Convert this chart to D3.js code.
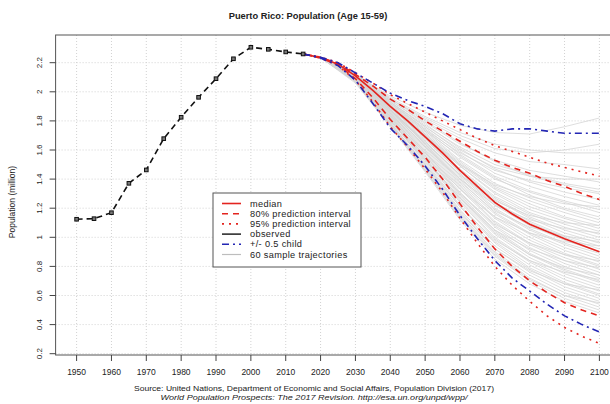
<!DOCTYPE html>
<html>
<head>
<meta charset="utf-8">
<script src="https://cdn.jsdelivr.net/npm/d3@7"></script>
<style>
    body { margin: 0; background: #ffffff; }
    #chart-area { width: 610px; height: 404px; }
    text { font-family: "Liberation Sans", Arial, sans-serif; fill: #222; }
</style>
</head>
<body>
<div id="chart-area"></div>
<script>
// Observed population, age 15-59 (millions)
var obsYears = [1950, 1955, 1960, 1965, 1970, 1975, 1980, 1985, 1990, 1995, 2000, 2005, 2010, 2015];
var observed = [1.124, 1.128, 1.169, 1.371, 1.463, 1.678, 1.825, 1.962, 2.090, 2.227, 2.306, 2.292, 2.274, 2.260];

// Projection years and quantiles
var projYears = [2015, 2020, 2025, 2030, 2035, 2040, 2045, 2050, 2055, 2060, 2065, 2070, 2075, 2080, 2085, 2090, 2095, 2100];
var median     = [2.26, 2.235, 2.19, 2.11, 2.01, 1.90, 1.80, 1.69, 1.58, 1.46, 1.35, 1.24, 1.16, 1.09, 1.04, 0.99, 0.945, 0.90];
var upper80    = [2.26, 2.237, 2.195, 2.12, 2.04, 1.95, 1.88, 1.80, 1.73, 1.66, 1.59, 1.53, 1.48, 1.44, 1.39, 1.35, 1.30, 1.26];
var lower80    = [2.26, 2.233, 2.185, 2.09, 1.96, 1.81, 1.68, 1.55, 1.40, 1.23, 1.07, 0.92, 0.80, 0.70, 0.62, 0.55, 0.50, 0.46];
var upper95    = [2.26, 2.238, 2.20, 2.13, 2.06, 1.98, 1.92, 1.86, 1.80, 1.74, 1.68, 1.63, 1.59, 1.55, 1.51, 1.48, 1.45, 1.42];
var lower95    = [2.26, 2.232, 2.18, 2.08, 1.93, 1.76, 1.62, 1.47, 1.31, 1.13, 0.96, 0.80, 0.67, 0.56, 0.46, 0.38, 0.32, 0.27];
var upperChild = [2.26, 2.238, 2.20, 2.13, 2.06, 1.99, 1.94, 1.90, 1.85, 1.78, 1.745, 1.73, 1.745, 1.745, 1.73, 1.715, 1.715, 1.715];
var lowerChild = [2.26, 2.232, 2.18, 2.08, 1.92, 1.75, 1.63, 1.49, 1.33, 1.15, 0.99, 0.84, 0.72, 0.63, 0.54, 0.46, 0.40, 0.35];

// 60 sample trajectories
var trajYears = [2015, 2020, 2030, 2040, 2050, 2060, 2070, 2080, 2090, 2100];
var trajectories = [
    [2.26, 2.235, 2.12, 1.97, 1.86, 1.77, 1.72, 1.71, 1.76, 1.82],
    [2.26, 2.235, 2.12, 1.96, 1.83, 1.72, 1.64, 1.60, 1.58, 1.58],
    [2.26, 2.235, 2.12, 1.95, 1.81, 1.68, 1.58, 1.52, 1.50, 1.47],
    [2.26, 2.235, 2.11, 1.94, 1.79, 1.64, 1.53, 1.46, 1.42, 1.38],
    [2.26, 2.235, 2.12, 1.95, 1.80, 1.65, 1.52, 1.42, 1.36, 1.31],
    [2.26, 2.235, 2.11, 1.93, 1.77, 1.62, 1.50, 1.43, 1.37, 1.33],
    [2.26, 2.235, 2.11, 1.94, 1.78, 1.61, 1.47, 1.38, 1.31, 1.26],
    [2.26, 2.235, 2.12, 1.93, 1.76, 1.59, 1.44, 1.35, 1.28, 1.22],
    [2.26, 2.235, 2.11, 1.92, 1.75, 1.57, 1.42, 1.32, 1.25, 1.19],
    [2.26, 2.235, 2.11, 1.93, 1.74, 1.55, 1.40, 1.31, 1.24, 1.17],
    [2.26, 2.235, 2.11, 1.91, 1.73, 1.56, 1.41, 1.29, 1.20, 1.14],
    [2.26, 2.235, 2.11, 1.92, 1.73, 1.53, 1.37, 1.27, 1.19, 1.12],
    [2.26, 2.235, 2.10, 1.91, 1.72, 1.52, 1.35, 1.25, 1.17, 1.10],
    [2.26, 2.235, 2.11, 1.90, 1.71, 1.51, 1.34, 1.23, 1.14, 1.08],
    [2.26, 2.235, 2.10, 1.91, 1.71, 1.50, 1.33, 1.21, 1.13, 1.06],
    [2.26, 2.235, 2.11, 1.90, 1.70, 1.49, 1.31, 1.19, 1.11, 1.04],
    [2.26, 2.235, 2.10, 1.89, 1.69, 1.49, 1.30, 1.17, 1.09, 1.02],
    [2.26, 2.235, 2.11, 1.90, 1.70, 1.47, 1.28, 1.16, 1.07, 1.00],
    [2.26, 2.235, 2.10, 1.89, 1.68, 1.46, 1.27, 1.14, 1.05, 0.98],
    [2.26, 2.235, 2.10, 1.88, 1.67, 1.45, 1.26, 1.13, 1.03, 0.96],
    [2.26, 2.235, 2.11, 1.89, 1.68, 1.44, 1.24, 1.11, 1.01, 0.94],
    [2.26, 2.235, 2.10, 1.88, 1.66, 1.43, 1.23, 1.10, 1.00, 0.92],
    [2.26, 2.235, 2.10, 1.87, 1.66, 1.42, 1.22, 1.08, 0.98, 0.90],
    [2.26, 2.235, 2.10, 1.88, 1.65, 1.41, 1.20, 1.06, 0.96, 0.89],
    [2.26, 2.235, 2.09, 1.87, 1.64, 1.40, 1.19, 1.05, 0.95, 0.87],
    [2.26, 2.235, 2.10, 1.86, 1.63, 1.39, 1.17, 1.03, 0.93, 0.85],
    [2.26, 2.235, 2.09, 1.86, 1.63, 1.37, 1.16, 1.02, 0.91, 0.83],
    [2.26, 2.235, 2.10, 1.87, 1.62, 1.36, 1.14, 1.00, 0.89, 0.81],
    [2.26, 2.235, 2.09, 1.85, 1.61, 1.35, 1.13, 0.98, 0.88, 0.80],
    [2.26, 2.235, 2.09, 1.85, 1.60, 1.34, 1.11, 0.96, 0.86, 0.78],
    [2.26, 2.235, 2.10, 1.84, 1.59, 1.33, 1.10, 0.95, 0.84, 0.76],
    [2.26, 2.235, 2.09, 1.85, 1.59, 1.31, 1.08, 0.93, 0.82, 0.74],
    [2.26, 2.235, 2.09, 1.83, 1.58, 1.30, 1.07, 0.91, 0.80, 0.72],
    [2.26, 2.235, 2.09, 1.84, 1.57, 1.29, 1.05, 0.89, 0.78, 0.70],
    [2.26, 2.235, 2.08, 1.83, 1.56, 1.28, 1.04, 0.88, 0.77, 0.69],
    [2.26, 2.235, 2.09, 1.82, 1.55, 1.26, 1.02, 0.86, 0.75, 0.67],
    [2.26, 2.235, 2.08, 1.82, 1.54, 1.25, 1.00, 0.84, 0.73, 0.65],
    [2.26, 2.235, 2.09, 1.81, 1.53, 1.24, 0.99, 0.83, 0.71, 0.63],
    [2.26, 2.235, 2.08, 1.80, 1.52, 1.22, 0.97, 0.81, 0.69, 0.61],
    [2.26, 2.235, 2.08, 1.81, 1.51, 1.21, 0.96, 0.79, 0.68, 0.60],
    [2.26, 2.235, 2.08, 1.79, 1.50, 1.19, 0.94, 0.78, 0.66, 0.58],
    [2.26, 2.235, 2.07, 1.79, 1.49, 1.18, 0.92, 0.76, 0.64, 0.56],
    [2.26, 2.235, 2.08, 1.78, 1.48, 1.16, 0.90, 0.74, 0.62, 0.54],
    [2.26, 2.235, 2.07, 1.77, 1.47, 1.15, 0.89, 0.72, 0.60, 0.52],
    [2.26, 2.235, 2.07, 1.78, 1.46, 1.13, 0.87, 0.70, 0.58, 0.50],
    [2.26, 2.235, 2.07, 1.76, 1.45, 1.12, 0.85, 0.68, 0.56, 0.48],
    [2.26, 2.235, 2.08, 1.80, 1.53, 1.27, 1.05, 0.92, 0.84, 0.79],
    [2.26, 2.235, 2.10, 1.88, 1.64, 1.38, 1.18, 1.07, 1.01, 0.97],
    [2.26, 2.235, 2.11, 1.92, 1.74, 1.58, 1.46, 1.39, 1.34, 1.30],
    [2.26, 2.235, 2.09, 1.85, 1.62, 1.40, 1.22, 1.12, 1.06, 1.03],
    [2.26, 2.235, 2.10, 1.89, 1.70, 1.50, 1.36, 1.28, 1.23, 1.21],
    [2.26, 2.235, 2.08, 1.82, 1.56, 1.30, 1.09, 0.96, 0.88, 0.84],
    [2.26, 2.235, 2.09, 1.83, 1.58, 1.33, 1.14, 1.03, 0.97, 0.94],
    [2.26, 2.235, 2.11, 1.93, 1.76, 1.60, 1.48, 1.42, 1.40, 1.40],
    [2.26, 2.235, 2.07, 1.78, 1.50, 1.21, 0.98, 0.84, 0.76, 0.71],
    [2.26, 2.235, 2.12, 1.95, 1.82, 1.70, 1.61, 1.58, 1.60, 1.64],
    [2.26, 2.235, 2.10, 1.87, 1.65, 1.43, 1.25, 1.15, 1.10, 1.08],
    [2.26, 2.235, 2.08, 1.81, 1.54, 1.27, 1.03, 0.88, 0.79, 0.74],
    [2.26, 2.235, 2.07, 1.77, 1.48, 1.17, 0.92, 0.77, 0.68, 0.64],
    [2.26, 2.235, 2.06, 1.76, 1.46, 1.14, 0.88, 0.71, 0.60, 0.55]
];

// Axis ticks
var xTicks = [1950, 1960, 1970, 1980, 1990, 2000, 2010, 2020, 2030, 2040, 2050, 2060, 2070, 2080, 2090, 2100];
var yTicks = [0.2, 0.4, 0.6, 0.8, 1, 1.2, 1.4, 1.6, 1.8, 2, 2.2];

// Legend entries
var legendLabels = ["median", "80% prediction interval", "95% prediction interval", "observed", "+/- 0.5 child", "60 sample trajectories"];

var RED = "#e3241f";
var BLUE = "#2326b4";

PopChart = function(_parentElement) {
    this.parentElement = _parentElement;
    this.initVis();
};

PopChart.prototype.initVis = function() {
    var vis = this;

    vis.width = 610;
    vis.height = 404;

    // plot box (right edge runs off the picture)
    vis.box = { left: 55.6, top: 35, right: 622, bottom: 355 };

    vis.svg = d3.select("#" + vis.parentElement).append("svg")
        .attr("width", vis.width)
        .attr("height", vis.height);

    vis.x = d3.scaleLinear().domain([1950, 2100]).range([76.6, 599.4]);
    vis.y = d3.scaleLinear().domain([0.2, 2.2]).range([353.7, 62.7]);

    vis.updateVis();
};

PopChart.prototype.updateVis = function() {
    var vis = this;

    // Grid lines
    vis.svg.append("g").selectAll("line.vgrid")
        .data(xTicks).enter().append("line")
        .attr("class", "vgrid")
        .attr("x1", function(d) { return vis.x(d); })
        .attr("x2", function(d) { return vis.x(d); })
        .attr("y1", vis.box.top)
        .attr("y2", vis.box.bottom)
        .attr("stroke", "#d2d2d2")
        .attr("stroke-width", 1)
        .attr("stroke-dasharray", "1,2");

    vis.svg.append("g").selectAll("line.hgrid")
        .data(yTicks).enter().append("line")
        .attr("class", "hgrid")
        .attr("x1", vis.box.left)
        .attr("x2", vis.box.right)
        .attr("y1", function(d) { return vis.y(d); })
        .attr("y2", function(d) { return vis.y(d); })
        .attr("stroke", "#d2d2d2")
        .attr("stroke-width", 1)
        .attr("stroke-dasharray", "1,2");

    var line = d3.line()
        .x(function(d) { return vis.x(d[0]); })
        .y(function(d) { return vis.y(d[1]); });

    function pairs(years, vals) {
        return years.map(function(yr, i) { return [yr, vals[i]]; });
    }

    // Sample trajectories
    vis.svg.append("g").selectAll("path.traj")
        .data(trajectories).enter().append("path")
        .attr("class", "traj")
        .attr("d", function(d) { return line(pairs(trajYears, d)); })
        .attr("fill", "none")
        .attr("stroke", "#d6d6d6")
        .attr("stroke-width", 0.8);

    // Projection quantiles + the half-child variants
    var series = [
        { vals: median, color: RED, dash: null },
        { vals: upper80, color: RED, dash: "6,5" },
        { vals: lower80, color: RED, dash: "6,5" },
        { vals: upper95, color: RED, dash: "2,5" },
        { vals: lower95, color: RED, dash: "2,5" },
        { vals: upperChild, color: BLUE, dash: "7,4,2,4" },
        { vals: lowerChild, color: BLUE, dash: "7,4,2,4" }
    ];

    vis.svg.append("g").selectAll("path.proj")
        .data(series).enter().append("path")
        .attr("class", "proj")
        .attr("d", function(d) { return line(pairs(projYears, d.vals)); })
        .attr("fill", "none")
        .attr("stroke", function(d) { return d.color; })
        .attr("stroke-width", 1.6)
        .attr("stroke-dasharray", function(d) { return d.dash; });

    // Observed
    vis.svg.append("path")
        .attr("d", line(pairs(obsYears, observed)))
        .attr("fill", "none")
        .attr("stroke", "#111")
        .attr("stroke-width", 1.6)
        .attr("stroke-dasharray", "6,4");

    vis.svg.append("g").selectAll("rect.obs")
        .data(pairs(obsYears, observed)).enter().append("rect")
        .attr("class", "obs")
        .attr("x", function(d) { return vis.x(d[0]) - 1.8; })
        .attr("y", function(d) { return vis.y(d[1]) - 1.8; })
        .attr("width", 3.6)
        .attr("height", 3.6)
        .attr("fill", "#777")
        .attr("stroke", "#111")
        .attr("stroke-width", 1);

    // Box
    vis.svg.append("rect")
        .attr("x", vis.box.left)
        .attr("y", vis.box.top)
        .attr("width", vis.box.right - vis.box.left)
        .attr("height", vis.box.bottom - vis.box.top)
        .attr("fill", "none")
        .attr("stroke", "#555")
        .attr("stroke-width", 1);

    // x axis ticks and labels
    var xg = vis.svg.append("g");
    xg.selectAll("line").data(xTicks).enter().append("line")
        .attr("x1", function(d) { return vis.x(d); })
        .attr("x2", function(d) { return vis.x(d); })
        .attr("y1", vis.box.bottom)
        .attr("y2", vis.box.bottom + 6)
        .attr("stroke", "#444");
    xg.selectAll("text").data(xTicks).enter().append("text")
        .attr("x", function(d) { return vis.x(d); })
        .attr("y", 375)
        .attr("text-anchor", "middle")
        .style("font-size", "8.5px")
        .text(function(d) { return d; });

    // y axis ticks and labels (rotated, like R's default)
    var yg = vis.svg.append("g");
    yg.selectAll("line").data(yTicks).enter().append("line")
        .attr("x1", vis.box.left - 6)
        .attr("x2", vis.box.left)
        .attr("y1", function(d) { return vis.y(d); })
        .attr("y2", function(d) { return vis.y(d); })
        .attr("stroke", "#444");
    yg.selectAll("text").data(yTicks).enter().append("text")
        .attr("transform", function(d) { return "translate(42," + vis.y(d) + ") rotate(-90)"; })
        .attr("text-anchor", "middle")
        .style("font-size", "8px")
        .text(function(d) { return d; });

    // y label
    vis.svg.append("text")
        .attr("transform", "translate(15,202) rotate(-90)")
        .attr("text-anchor", "middle")
        .style("font-size", "8.5px")
        .text("Population (million)");

    // Title
    vis.svg.append("text")
        .attr("x", 308)
        .attr("y", 19)
        .attr("text-anchor", "middle")
        .style("font-size", "9.3px")
        .style("font-weight", "bold")
        .text("Puerto Rico: Population (Age 15-59)");

    // Source lines
    vis.svg.append("text")
        .attr("x", 314)
        .attr("y", 391)
        .attr("text-anchor", "middle")
        .attr("textLength", 360)
        .attr("lengthAdjust", "spacingAndGlyphs")
        .style("font-size", "7.5px")
        .text("Source: United Nations, Department of Economic and Social Affairs, Population Division (2017)");
    vis.svg.append("text")
        .attr("x", 314)
        .attr("y", 400)
        .attr("text-anchor", "middle")
        .attr("textLength", 307)
        .attr("lengthAdjust", "spacingAndGlyphs")
        .style("font-size", "7.5px")
        .style("font-style", "italic")
        .text("World Population Prospects: The 2017 Revision. http://esa.un.org/unpd/wpp/");

    // Legend
    var legendStyles = [
        { color: RED, dash: null, w: 1.6 },
        { color: RED, dash: "6,5", w: 1.6 },
        { color: RED, dash: "2,5", w: 1.6 },
        { color: "#111", dash: null, w: 1.4 },
        { color: BLUE, dash: "7,4,2,4", w: 1.6 },
        { color: "#bdbdbd", dash: null, w: 1.2 }
    ];

    var lg = vis.svg.append("g").attr("transform", "translate(213,193)");
    lg.append("rect")
        .attr("width", 148)
        .attr("height", 74)
        .attr("fill", "#fff")
        .attr("stroke", "#555")
        .attr("stroke-width", 1);

    var items = lg.selectAll("g.item")
        .data(legendLabels).enter().append("g")
        .attr("class", "item")
        .attr("transform", function(d, i) { return "translate(0," + (10.5 + i * 10.2) + ")"; });

    items.append("line")
        .attr("x1", 9).attr("x2", 28)
        .attr("stroke", function(d, i) { return legendStyles[i].color; })
        .attr("stroke-width", function(d, i) { return legendStyles[i].w; })
        .attr("stroke-dasharray", function(d, i) { return legendStyles[i].dash; });

    items.append("text")
        .attr("x", 37)
        .attr("y", 3)
        .style("font-size", "9.2px")
        .style("letter-spacing", "0.35px")
        .text(function(d) { return d; });
};

new PopChart("chart-area");
</script>
</body>
</html>
